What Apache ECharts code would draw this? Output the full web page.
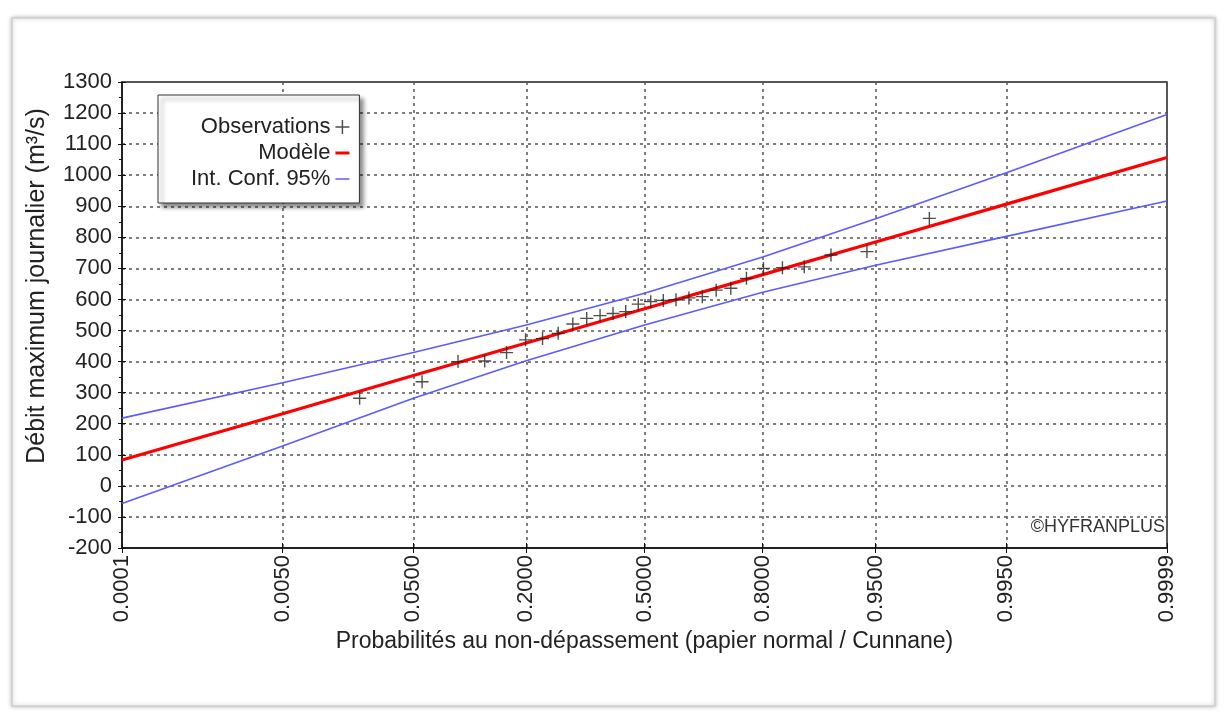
<!DOCTYPE html>
<html>
<head>
<meta charset="utf-8">
<script src="https://cdn.jsdelivr.net/npm/echarts@6/dist/echarts.min.js"></script>
<style>
html,body{margin:0;padding:0;background:#fff;}
#chart{width:1227px;height:717px;}
</style>
</head>
<body>
<div id="chart"></div>
<script>
// ---- data ----
const tickProbs = [0.0001, 0.005, 0.05, 0.2, 0.5, 0.8, 0.95, 0.995, 0.9999];
const tickLabels = ['0.0001', '0.0050', '0.0500', '0.2000', '0.5000', '0.8000', '0.9500', '0.9950', '0.9999'];
const yMin = -200, yMax = 1300, yStep = 100;

// observations (Cunnane plotting positions, n = 28) and daily maximum flow (m3/s)
const obsProb = [0.0213, 0.0567, 0.0922, 0.1277, 0.1631, 0.1986, 0.2340, 0.2695, 0.3050, 0.3404,
                 0.3759, 0.4113, 0.4468, 0.4823, 0.5177, 0.5532, 0.5887, 0.6241, 0.6596, 0.6950,
                 0.7305, 0.7660, 0.8014, 0.8369, 0.8723, 0.9078, 0.9433, 0.9787];
const obsFlow = [282, 335, 400, 402, 429, 470, 474, 491, 521, 539,
                 548, 555, 561, 585, 593, 597, 599, 605, 609, 630,
                 636, 668, 700, 702, 705, 743, 754, 861];

// model and 95% confidence interval read at the tick probabilities
const modelFlow = [83, 232, 355, 460, 570, 680, 785, 907, 1057];
const ciUpper   = [218, 332, 429, 518, 620, 737, 860, 1008, 1195];
const ciLower   = [-57, 128, 282, 403, 518, 623, 710, 803, 917];

// ---- normal probability paper transform (probit) ----
function probit(p) {
  const a = [-3.969683028665376e+01, 2.209460984245205e+02, -2.759285104469687e+02, 1.383577518672690e+02, -3.066479806614716e+01, 2.506628277459239e+00];
  const b = [-5.447609879822406e+01, 1.615858368580409e+02, -1.556989798598866e+02, 6.680131188771972e+01, -1.328068155288572e+01];
  const c = [-7.784894002430293e-03, -3.223964580411365e-01, -2.400758277161838e+00, -2.549732539343734e+00, 4.374664141464968e+00, 2.938163982698783e+00];
  const d = [7.784695709041462e-03, 3.224671290700398e-01, 2.445134137142996e+00, 3.754408661907416e+00];
  const pl = 0.02425;
  let q, r;
  if (p < pl) {
    q = Math.sqrt(-2 * Math.log(p));
    return (((((c[0]*q+c[1])*q+c[2])*q+c[3])*q+c[4])*q+c[5]) / ((((d[0]*q+d[1])*q+d[2])*q+d[3])*q+1);
  } else if (p <= 1 - pl) {
    q = p - 0.5; r = q * q;
    return (((((a[0]*r+a[1])*r+a[2])*r+a[3])*r+a[4])*r+a[5])*q / (((((b[0]*r+b[1])*r+b[2])*r+b[3])*r+b[4])*r+1);
  } else {
    q = Math.sqrt(-2 * Math.log(1 - p));
    return -(((((c[0]*q+c[1])*q+c[2])*q+c[3])*q+c[4])*q+c[5]) / ((((d[0]*q+d[1])*q+d[2])*q+d[3])*q+1);
  }
}

const tickZ = tickProbs.map(probit);
const zMin = tickZ[0], zMax = tickZ[tickZ.length - 1];
function labelFor(v) {
  let best = 0;
  for (let i = 1; i < tickZ.length; i++) if (Math.abs(tickZ[i] - v) < Math.abs(tickZ[best] - v)) best = i;
  return tickLabels[best];
}

const FONT = 'Liberation Sans, Arial, sans-serif';
const plusPath = 'path://M6.25,0h1.5v6.25h6.25v1.5h-6.25v6.25h-1.5v-6.25h-6.25v-1.5h6.25z';

const chart = echarts.init(document.getElementById('chart'), null, {renderer: 'canvas'});
chart.setOption({
  backgroundColor: '#ffffff',
  animation: false,
  textStyle: {fontFamily: FONT},
  graphic: [
    {type: 'rect', z: -10, shape: {x: 12, y: 18, width: 1203, height: 688},
     style: {fill: '#ffffff', stroke: '#cfcfcf', lineWidth: 1.5, shadowBlur: 4, shadowColor: 'rgba(0,0,0,0.25)'}},
    {type: 'text', z: 100, x: 1165, y: 527,
     style: {text: '©HYFRANPLUS', fill: '#333', font: '18px ' + FONT, textAlign: 'right', textVerticalAlign: 'middle'}}
  ],
  grid: {left: 122, right: 60, top: 82, bottom: 169, show: true, borderColor: '#222', borderWidth: 1.5, backgroundColor: 'transparent'},
  legend: {
    orient: 'vertical', align: 'right', left: 158, top: 95,
    backgroundColor: '#ffffff', borderColor: '#333', borderWidth: 1,
    padding: [20, 10, 12, 33], itemGap: 2, itemWidth: 14, itemHeight: 14,
    shadowColor: 'rgba(0,0,0,0.45)', shadowBlur: 4, shadowOffsetX: 4, shadowOffsetY: 4,
    textStyle: {fontSize: 22, color: '#222', fontFamily: FONT, lineHeight: 24},
    data: [
      {name: 'Observations', icon: plusPath},
      {name: 'Modèle', icon: 'path://M0,5.5h14v3h-14z'},
      {name: 'Int. Conf. 95%', icon: 'path://M0,6.25h14v1.5h-14z'}
    ]
  },
  xAxis: [{
    type: 'value', min: zMin, max: zMax, position: 'bottom',
    name: 'Probabilités au non-dépassement (papier normal / Cunnane)',
    nameLocation: 'middle', nameGap: 76,
    nameTextStyle: {fontSize: 23, color: '#222', fontFamily: FONT},
    axisLine: {show: true, onZero: false, lineStyle: {color: '#111', width: 1.5}},
    axisTick: {show: true, customValues: tickZ, length: 5, lineStyle: {color: '#111'}},
    axisLabel: {customValues: tickZ, rotate: 90, margin: 7, fontSize: 22, color: '#222', fontFamily: FONT,
                formatter: labelFor, showMinLabel: true, showMaxLabel: true},
    splitLine: {show: true, lineStyle: {color: '#555', type: [3, 4], width: 1.5}}
  }, {
    type: 'value', min: zMin, max: zMax, position: 'bottom',
    axisLine: {show: false, onZero: false}, axisLabel: {show: false}, splitLine: {show: false},
    axisTick: {show: true, inside: true, customValues: tickZ, length: 5, lineStyle: {color: '#111'}}
  }],
  yAxis: [{
    type: 'value', min: yMin, max: yMax, interval: yStep, position: 'left',
    name: 'Débit maximum journalier (m³/s)',
    nameLocation: 'middle', nameGap: 72,
    nameTextStyle: {fontSize: 25, color: '#222', fontFamily: FONT, padding: [0, 0, 0, 58]},
    axisLine: {show: true, onZero: false, lineStyle: {color: '#111', width: 1.5}},
    axisTick: {show: true, length: 4, lineStyle: {color: '#111'}},
    minorTick: {show: true, splitNumber: 2, length: 3, lineStyle: {color: '#111'}},
    axisLabel: {margin: 10, fontSize: 22, color: '#222', fontFamily: FONT, formatter: v => String(v)},
    splitLine: {show: true, lineStyle: {color: '#555', type: [3, 4], width: 1.5}}
  }, {
    type: 'value', min: yMin, max: yMax, interval: yStep, position: 'left',
    axisLine: {show: false, onZero: false}, axisLabel: {show: false}, splitLine: {show: false},
    axisTick: {show: true, inside: true, length: 4, lineStyle: {color: '#111'}},
    minorTick: {show: false}
  }],
  series: [
    {name: 'Int. Conf. 95%', type: 'line', showSymbol: false, symbol: 'none', z: 2,
     color: '#5b5bff', lineStyle: {color: '#5b5bff', width: 1.6},
     data: tickZ.map((z, i) => [z, ciUpper[i]])},
    {name: 'Int. Conf. 95%', type: 'line', showSymbol: false, symbol: 'none', z: 2,
     color: '#5b5bff', lineStyle: {color: '#5b5bff', width: 1.6},
     data: tickZ.map((z, i) => [z, ciLower[i]])},
    {name: 'Modèle', type: 'line', showSymbol: false, symbol: 'none', z: 3,
     color: '#ff0000', lineStyle: {color: '#ff0000', width: 3.2},
     data: tickZ.map((z, i) => [z, modelFlow[i]])},
    {name: 'Observations', type: 'scatter', z: 4, symbol: plusPath, symbolSize: 13,
     color: '#222', itemStyle: {color: '#222'},
     data: obsProb.map((p, i) => [probit(p), obsFlow[i]])}
  ]
});
</script>
</body>
</html>
